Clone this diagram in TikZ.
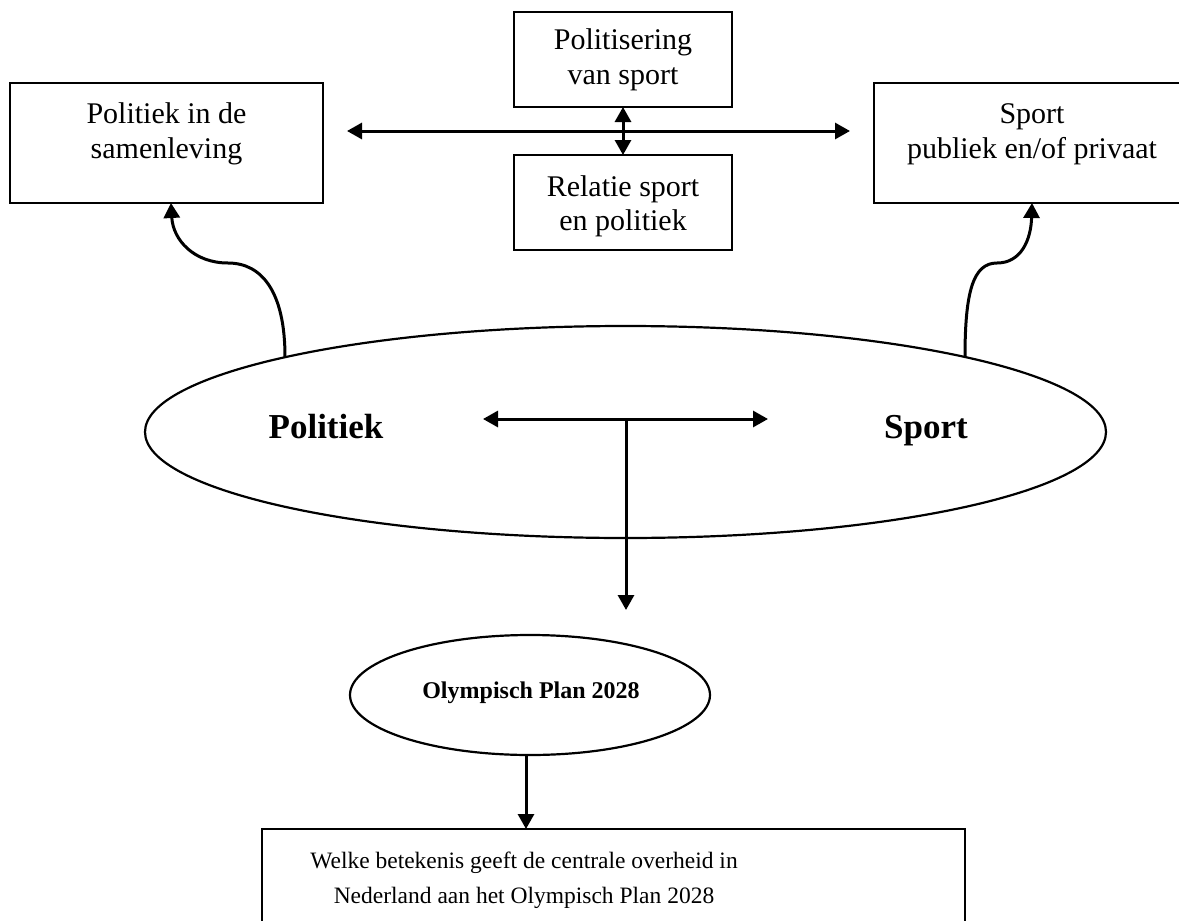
\documentclass[tikz,border=0pt]{standalone}
\usepackage{fontspec}
\setmainfont{Liberation Serif}
\usetikzlibrary{arrows.meta,shapes.geometric}
\begin{document}
\begin{tikzpicture}[x=1pt,y=-1pt,
  box/.style={draw, line width=2.2pt, inner sep=0pt, outer sep=0pt},
  oval/.style={draw, ellipse, line width=2.2pt, inner sep=0pt, outer sep=0pt},
  txt/.style={inner sep=0pt, anchor=base, font=\fontsize{30}{35}\selectfont},
  txtsmall/.style={inner sep=0pt, anchor=base, font=\fontsize{23.5}{35}\selectfont},
  bigbold/.style={inner sep=0pt, anchor=base, font=\fontsize{35}{40}\selectfont\bfseries},
  midbold/.style={inner sep=0pt, anchor=base, font=\fontsize{24}{30}\selectfont\bfseries},
  arr/.style={line width=3pt, -{Triangle[length=15pt,width=16pt]}},
  dbl/.style={line width=3pt, {Triangle[length=15pt,width=16pt]}-{Triangle[length=15pt,width=16pt]}}
]
\useasboundingbox (0,0) rectangle (1179,921);
\clip (0,0) rectangle (1179,921);

% boxes
\node[box, minimum width=313pt, minimum height=120pt] (lbox) at (166.5,143) {};
\node[box, minimum width=218pt, minimum height=95pt] (pol) at (623,59.5) {};
\node[box, minimum width=218pt, minimum height=95pt] (rel) at (623,202.5) {};
\node[box, minimum width=316pt, minimum height=120pt] (rbox) at (1032,143) {};
\node[box, minimum width=703pt, minimum height=130pt] (bot) at (613.5,894) {};

% ellipses
\node[oval, minimum width=961pt, minimum height=212pt] (big) at (625.5,432) {};
\node[oval, minimum width=360pt, minimum height=120pt] (olymp) at (530,695) {};

% texts
\node[txt] (t1a) at (166.5,123) {Politiek in de};
\node[txt] (t1b) at (166.5,158) {samenleving};
\node[txt] (t2a) at (623,49) {Politisering};
\node[txt] (t2b) at (623,84) {van sport};
\node[txt] (t3a) at (623,196) {Relatie sport};
\node[txt] (t3b) at (623,230) {en politiek};
\node[txt] (t4a) at (1032,123) {Sport};
\node[txt] (t4b) at (1032,158) {publiek en/of privaat};
\node[bigbold] (tp) at (326,438) {Politiek};
\node[bigbold] (ts) at (926,438) {Sport};
\node[midbold] (to) at (531,698) {Olympisch Plan 2028};
\node[txtsmall] (t5a) at (524,868) {Welke betekenis geeft de centrale overheid in};
\node[txtsmall] (t5b) at (524,903) {Nederland aan het Olympisch Plan 2028};

% top connectors
\coordinate (hL) at (347,131);
\coordinate (hR) at (850,131);
\draw[dbl] (hL) -- (hR);
\draw[dbl] (pol.south) -- (rel.north);

% curved arrows
\coordinate (cL) at (285,357);
\coordinate (cR) at (965,357);
\draw[arr] (cL) .. controls (285,292) and (262,263) .. (228,263)
  .. controls (194,263) and (173,240) .. ([xshift=4.5pt]lbox.south);
\draw[arr] (cR) .. controls (965,292) and (973,263) .. (997,263)
  .. controls (1021,263) and (1031,240) .. (rbox.south);

% inner T arrows
\coordinate (iL) at (483,419);
\coordinate (iR) at (768,419);
\coordinate (iT) at (626,419);
\coordinate (iB) at (626,610);
\draw[dbl] (iL) -- (iR);
\draw[arr] (iT) -- (iB);

% bottom arrow
\coordinate (oS) at ([xshift=-4pt]olymp.south);
\draw[arr] (oS) -- (oS |- bot.north);
\end{tikzpicture}
\end{document}
